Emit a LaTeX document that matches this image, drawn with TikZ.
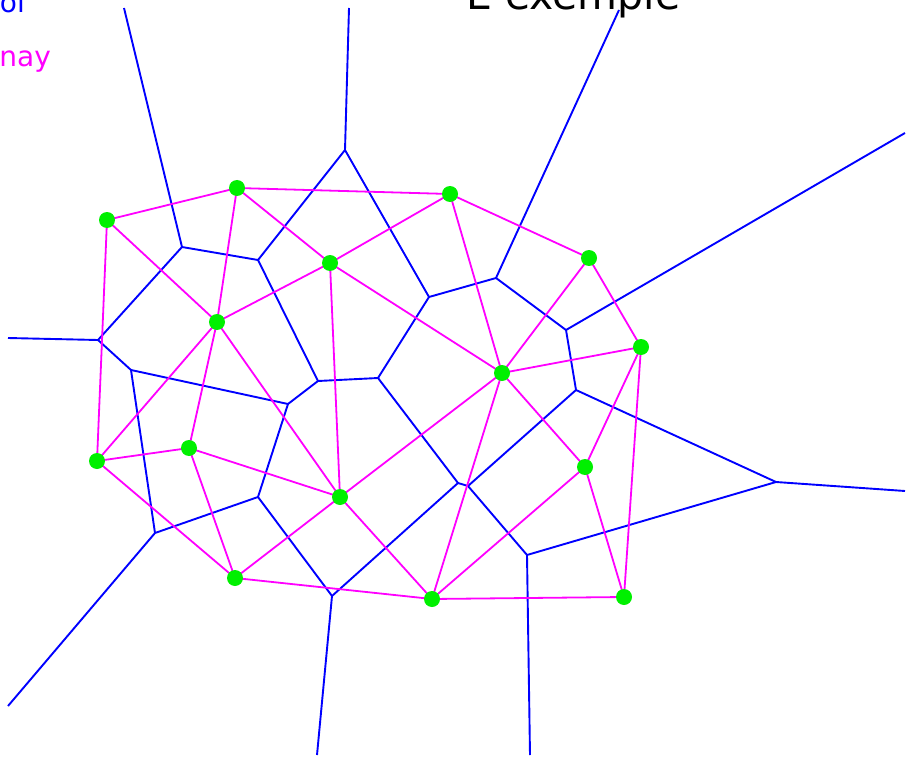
\documentclass[tikz,border=0pt]{standalone}
\usepackage{fontspec}
\setmainfont{DejaVu Sans}
\definecolor{vorblue}{RGB}{0,0,255}
\definecolor{delmag}{RGB}{255,0,255}
\definecolor{sitegreen}{RGB}{0,240,0}
\begin{document}
\begin{tikzpicture}[x=1pt,y=-1pt,
  voro/.style={draw=vorblue,line width=1.9pt},
  dela/.style={draw=delmag,line width=1.8pt},
  site/.style={circle,fill=sitegreen,inner sep=0pt,minimum size=16pt},
  legtext/.style={anchor=base east,inner sep=0pt,font=\fontsize{28}{32}\selectfont},
  titletext/.style={anchor=base west,inner sep=0pt,font=\fontsize{41}{46}\selectfont}]
\useasboundingbox (0,0) rectangle (908,757);

% labels
\node[legtext,text=vorblue] (lv) at (25,13) {Voronoi};
\node[legtext,text=delmag] (ld) at (51,67) {Delaunay};
\node[titletext] (title) at (466,10) {E exemple};

% Delaunay sites
\coordinate (p1) at (107,220);
\coordinate (p2) at (237,188);
\coordinate (p3) at (450,194);
\coordinate (p4) at (330,263);
\coordinate (p5) at (589,258);
\coordinate (p6) at (217,322);
\coordinate (p7) at (641,347);
\coordinate (p8) at (502,373);
\coordinate (p9) at (97,461);
\coordinate (p10) at (189,448);
\coordinate (p11) at (340,497);
\coordinate (p12) at (585,467);
\coordinate (p13) at (235,578);
\coordinate (p14) at (432,599);
\coordinate (p15) at (624,597);

% Voronoi vertices
\coordinate (v1) at (345,150);
\coordinate (v2) at (182,247);
\coordinate (v3) at (258,260);
\coordinate (v4) at (98,340);
\coordinate (v5) at (131,370);
\coordinate (v6) at (288,404);
\coordinate (v7) at (318,381);
\coordinate (v8) at (378,378);
\coordinate (v9) at (429,297);
\coordinate (v10) at (496,278);
\coordinate (v11) at (566,330);
\coordinate (v12) at (576,390);
\coordinate (v13) at (776,482);
\coordinate (v14) at (527,555);
\coordinate (v15) at (458,483);
\coordinate (v16) at (468,486);
\coordinate (v17) at (332,596);
\coordinate (v18) at (258,497);
\coordinate (v19) at (155,533);

% ends of the unbounded Voronoi edges
\coordinate (r1) at (124,8);
\coordinate (r2) at (349,8);
\coordinate (r3) at (619,10);
\coordinate (r4) at (905,133);
\coordinate (r5) at (905,491);
\coordinate (r6) at (530,755);
\coordinate (r7) at (317,755);
\coordinate (r8) at (8,706);
\coordinate (r9) at (8,338);

% Voronoi diagram
\foreach \a/\b in {v1/r2,v1/v3,v1/v9,v2/r1,v2/v3,v2/v4,v3/v7,v4/r9,v4/v5,
  v5/v6,v5/v19,v6/v7,v6/v18,v7/v8,v8/v9,v8/v15,v9/v10,v10/r3,v10/v11,
  v11/r4,v11/v12,v12/v16,v12/v13,v13/r5,v13/v14,v14/r6,v14/v16,v15/v16,
  v15/v17,v17/r7,v17/v18,v18/v19,v19/r8}
  \draw[voro,line join=round] (\a) -- (\b);

% Delaunay triangulation
\foreach \a/\b in {p1/p2,p1/p6,p1/p9,p2/p3,p2/p4,p2/p6,p3/p4,p3/p5,p3/p8,
  p4/p6,p4/p8,p4/p11,p5/p7,p5/p8,p6/p9,p6/p10,p6/p11,p7/p8,p7/p12,p7/p15,
  p8/p11,p8/p12,p8/p14,p9/p10,p9/p13,p10/p11,p10/p13,p11/p13,p11/p14,
  p12/p14,p12/p15,p13/p14,p14/p15}
  \draw[dela] (\a) -- (\b);

% sites on top
\foreach \p in {p1,p2,p3,p4,p5,p6,p7,p8,p9,p10,p11,p12,p13,p14,p15}
  \node[site] (n\p) at (\p) {};
\end{tikzpicture}
\end{document}
